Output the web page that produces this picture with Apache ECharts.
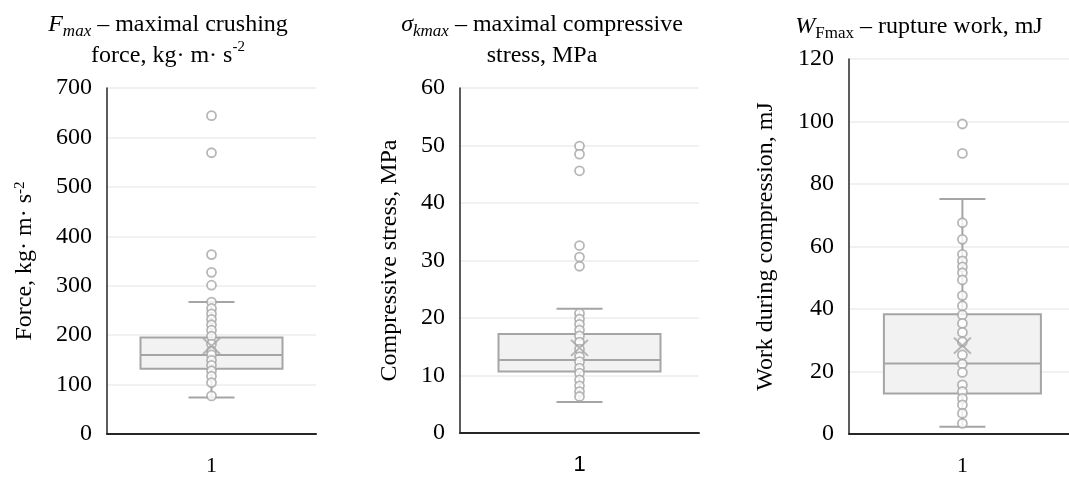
<!DOCTYPE html>
<html>
<head>
<meta charset="utf-8">
<script src="https://cdn.jsdelivr.net/npm/echarts@6/dist/echarts.min.js"></script>
<style>
  html, body { margin: 0; padding: 0; background: #fff; }
  #main { width: 1069px; height: 477px; }
</style>
</head>
<body>
<div id="main"></div>
<script>
// 数据
var categories = ['1'];

var forcePoints = [644, 569, 363, 327, 301, 267, 254, 243, 232, 221, 210, 198, 182, 168, 160, 149, 139, 128, 117, 104, 77];
var forceBox = [74, 132, 160, 195, 267];   // min, Q1, median, Q3, max
var forceMean = 178;

var stressPoints = [49.9, 48.5, 45.6, 32.6, 30.6, 29.0, 20.8, 19.8, 18.9, 17.9, 16.9, 15.8, 14.6, 13.3, 12.4, 11.3, 10.4, 9.25, 8.2, 7.2, 6.35];
var stressBox = [5.4, 10.7, 12.7, 17.2, 21.6];
var stressMean = 14.8;

var workPoints = [99.2, 89.8, 67.6, 62.3, 57.5, 55.4, 53.5, 51.6, 49.3, 44.3, 41.0, 38.1, 35.4, 32.5, 29.5, 25.3, 22.4, 19.7, 15.7, 13.6, 11.4, 9.3, 6.6, 3.4];
var workBox = [2.3, 13.0, 22.6, 38.3, 75.2];
var workMean = 28.3;

var forceTicks = [0, 700, 100];
var stressTicks = [0, 60, 10];
var workTicks = [0, 120, 20];

var chart = echarts.init(document.getElementById('main'));

var serif = 'Liberation Serif';
var grey = '#a5a5a5';

var richStyle = {
    i: { fontFamily: serif, fontSize: 24, fontStyle: 'italic', color: '#000' },
    sub: { fontFamily: serif, fontSize: 17, fontStyle: 'italic', color: '#000', verticalAlign: 'bottom', padding: [12, 0, 0, 0] },
    subr: { fontFamily: serif, fontSize: 17, color: '#000', verticalAlign: 'bottom', padding: [12, 0, 0, 0] },
    sup: { fontFamily: serif, fontSize: 15, color: '#000', verticalAlign: 'top', padding: [0, 0, 8, 0] }
};

var makeTitle = function (text, x, y) {
    return {
        text: text,
        left: x,
        top: y,
        textAlign: 'center',
        textStyle: {
            fontFamily: serif, fontSize: 24, fontWeight: 'normal', color: '#000', lineHeight: 31,
            rich: richStyle
        }
    };
};

// 第三个图的绘图区超出画布右边，用数值轴把中心放到原位置
var grids = [
    { left: 107, top: 88, width: 209, height: 347 },
    { left: 460, top: 88, width: 239, height: 345 },
    { left: 849, top: 59, right: 0, height: 375 }
];
var xRanges = [[-0.5, 0.5], [-0.5, 0.5], [-0.5, 0.47]];

var makeX = function (idx, font) {
    return {
        type: 'value',
        gridIndex: idx,
        min: xRanges[idx][0],
        max: xRanges[idx][1],
        axisTick: { show: false },
        axisLine: { onZero: false, lineStyle: { color: '#262626', width: 2 } },
        axisLabel: {
            fontFamily: font, fontSize: 22, color: '#000', margin: 21,
            customValues: [0],
            formatter: function (v) { return categories[Math.round(v)]; }
        },
        splitLine: { show: false }
    };
};

var makeY = function (idx, ticks, name, gap) {
    return {
        type: 'value',
        gridIndex: idx,
        min: ticks[0],
        max: ticks[1],
        interval: ticks[2],
        name: name,
        nameLocation: 'middle',
        nameGap: gap,
        nameTextStyle: { fontFamily: serif, fontSize: 24, color: '#000', rich: richStyle },
        axisLine: { show: true, onZero: false, lineStyle: { color: '#262626', width: 1.5 } },
        axisTick: { show: false },
        axisLabel: { fontFamily: serif, fontSize: 24, color: '#000', margin: 15 },
        splitLine: { lineStyle: { color: '#ececec', width: 1.5 } }
    };
};

// 箱线图：宽箱体 + 窄须线端
var renderBox = function (boxW, capW) {
    return function (params, api) {
        var x = api.value(0);
        var pMin = api.coord([x, api.value(1)]);
        var pQ1 = api.coord([x, api.value(2)]);
        var pMed = api.coord([x, api.value(3)]);
        var pQ3 = api.coord([x, api.value(4)]);
        var pMax = api.coord([x, api.value(5)]);
        var cx = pMed[0];
        var st = { stroke: grey, lineWidth: 2, fill: null };
        var line = function (x1, y1, x2, y2) {
            return { type: 'line', shape: { x1: x1, y1: y1, x2: x2, y2: y2 }, style: st };
        };
        return {
            type: 'group',
            children: [
                line(cx, pQ3[1], cx, pMax[1]),
                line(cx, pQ1[1], cx, pMin[1]),
                line(cx - capW / 2, pMax[1], cx + capW / 2, pMax[1]),
                line(cx - capW / 2, pMin[1], cx + capW / 2, pMin[1]),
                {
                    type: 'rect',
                    shape: { x: cx - boxW / 2, y: pQ3[1], width: boxW, height: pQ1[1] - pQ3[1] },
                    style: { fill: '#f2f2f2', stroke: grey, lineWidth: 2 }
                },
                line(cx - boxW / 2, pMed[1], cx + boxW / 2, pMed[1])
            ]
        };
    };
};

var boxSeries = function (idx, box, points, mean, wide) {
    return [
        {
            type: 'custom', xAxisIndex: idx, yAxisIndex: idx, z: 2, silent: true,
            renderItem: renderBox(wide, 46),
            encode: { x: 0, y: [1, 2, 3, 4, 5] },
            data: [[0].concat(box)]
        },
        {
            type: 'scatter', xAxisIndex: idx, yAxisIndex: idx, z: 4, silent: true,
            symbol: 'circle', symbolSize: 9,
            itemStyle: { color: '#fff', borderColor: grey, borderWidth: 1.8 },
            data: points.map(function (v) { return [0, v]; })
        },
        {
            type: 'scatter', xAxisIndex: idx, yAxisIndex: idx, z: 5, silent: true,
            symbol: 'path://M0,0L10,10M10,0L0,10', symbolSize: [17, 16],
            itemStyle: { color: 'none', borderColor: grey, borderWidth: 2 },
            data: [[0, mean]]
        }
    ];
};

var option = {
    animation: false,
    backgroundColor: '#fff',
    title: [
        makeTitle('{i|F}{sub|max} – maximal crushing\nforce, kg· m· s{sup|-2}', 163, 4),
        makeTitle('{i|σ}{sub|kmax} – maximal compressive\nstress, MPa', 537, 4),
        makeTitle('{i|W}{subr|Fmax} – rupture work, mJ', 914, 6)
    ],
    grid: grids,
    xAxis: [makeX(0, serif), makeX(1, 'Liberation Sans'), makeX(2, serif)],
    yAxis: [
        makeY(0, forceTicks, 'Force, kg· m· s{sup|-2}', 70),
        makeY(1, stressTicks, 'Compressive stress, MPa', 58),
        makeY(2, workTicks, 'Work during compression, mJ', 71)
    ],
    series: [].concat(
        boxSeries(0, forceBox, forcePoints, forceMean, 142),
        boxSeries(1, stressBox, stressPoints, stressMean, 162),
        boxSeries(2, workBox, workPoints, workMean, 157)
    )
};

chart.setOption(option);
</script>
</body>
</html>
